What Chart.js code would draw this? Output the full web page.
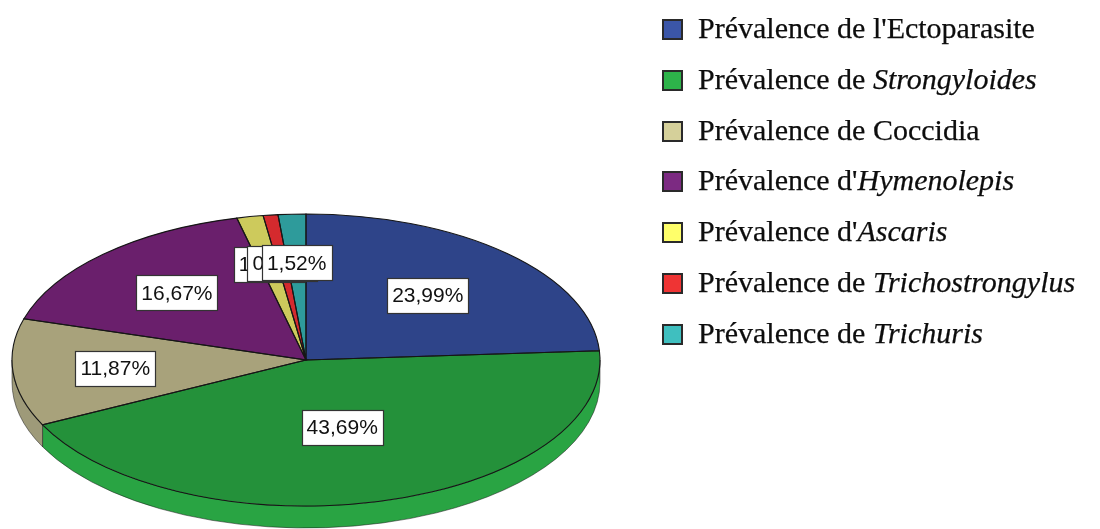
<!DOCTYPE html>
<html>
<head>
<meta charset="utf-8">
<script src="https://cdn.jsdelivr.net/npm/chart.js@4.4.1/dist/chart.umd.min.js"></script>
<style>
  html, body { margin: 0; padding: 0; background: #fff; }
  #wrap { position: relative; width: 1100px; height: 529px; overflow: hidden; }
  #chart { position: absolute; left: 0; top: 0; }
  #legend { position: absolute; left: 0; top: 0; font-family: "Liberation Serif", serif; font-size: 30px; color: #0d0d0d; -webkit-text-stroke: 0.25px #0d0d0d; }
  .row { position: absolute; left: 660px; height: 50px; line-height: 50px; white-space: nowrap; }
  .sw { position: absolute; left: 2px; top: 15px; width: 17px; height: 17px; border: 2px solid #2a2a2a; box-sizing: content-box; }
  .tx { position: absolute; left: 38px; top: -1px; }
</style>
</head>
<body>
<div id="wrap">
  <canvas id="chart" width="1100" height="529"></canvas>
  <div id="legend"></div>
</div>
<script>
// data
const categories = [
  "Prévalence de l'Ectoparasite",
  'Prévalence de Strongyloides',
  'Prévalence de Coccidia',
  "Prévalence d'Hymenolepis",
  "Prévalence d'Ascaris",
  'Prévalence de Trichostrongylus',
  'Prévalence de Trichuris'
];
const italicNames = ['', 'Strongyloides', '', 'Hymenolepis', 'Ascaris', 'Trichostrongylus', 'Trichuris'];
const prevalence = [23.99, 43.69, 11.87, 16.67, 1.45, 0.81, 1.52];

// styles
const topColors = ['#2e4489', '#24913a', '#a8a27b', '#6a1f6c', '#cdca5c', '#d42a2e', '#2e9b9b'];
const rimColors = ['#2a3e7c', '#29a443', '#9e9a79', '#611b63', '#bdb955', '#c02529', '#2a8d8d'];
const legendColors = ['#3b56a8', '#2db34a', '#d5d09a', '#7c2a82', '#ffff6a', '#ef3434', '#3fbfbf'];

// ellipse on the page
const EX = 306, EY = 360, RX = 294, RY = 146, DEPTH = 22;

function fmt(v) { return v.toFixed(2).replace('.', ',') + '%'; }

// legend (html so the species names can be italic)
const legend = document.getElementById('legend');
categories.forEach(function (name, i) {
  const row = document.createElement('div');
  row.className = 'row';
  row.style.top = (4 + i * 50.8) + 'px';
  const sw = document.createElement('span');
  sw.className = 'sw';
  sw.style.background = legendColors[i];
  const tx = document.createElement('span');
  tx.className = 'tx';
  const it = italicNames[i];
  if (it) {
    tx.appendChild(document.createTextNode(name.slice(0, name.length - it.length)));
    const em = document.createElement('i');
    em.textContent = it;
    tx.appendChild(em);
  } else {
    tx.textContent = name;
  }
  row.appendChild(sw);
  row.appendChild(tx);
  legend.appendChild(row);
});

// squash the pie into a tilted ellipse with a front rim
const tiltPie = {
  id: 'tiltPie',
  beforeDatasetsDraw(chart) {
    const ctx = chart.ctx;
    const arcs = chart.getDatasetMeta(0).data;
    ctx.save();
    // rim (front half only: canvas angles 0..PI)
    arcs.forEach(function (a, i) {
      const s = Math.max(a.startAngle, 0);
      const e = Math.min(a.endAngle, Math.PI);
      if (e <= s) return;
      ctx.beginPath();
      ctx.ellipse(EX, EY, RX, RY, 0, s, e);
      ctx.lineTo(EX + RX * Math.cos(e), EY + DEPTH + RY * Math.sin(e));
      ctx.ellipse(EX, EY + DEPTH, RX, RY, 0, e, s, true);
      ctx.closePath();
      ctx.fillStyle = rimColors[i];
      ctx.fill();
      ctx.lineWidth = 1;
      ctx.strokeStyle = 'rgba(20,20,20,0.5)';
      ctx.stroke();
    });
    const a0 = arcs[0];
    const r = a0.outerRadius;
    ctx.translate(EX, EY);
    ctx.scale(RX / r, RY / r);
    ctx.translate(-a0.x, -a0.y);
  },
  afterDatasetsDraw(chart) {
    const ctx = chart.ctx;
    ctx.restore();
    const arcs = chart.getDatasetMeta(0).data;
    // slice outlines
    ctx.save();
    ctx.lineWidth = 1.1;
    ctx.strokeStyle = '#161616';
    arcs.forEach(function (a) {
      ctx.beginPath();
      ctx.moveTo(EX, EY);
      ctx.lineTo(EX + RX * Math.cos(a.startAngle), EY + RY * Math.sin(a.startAngle));
      ctx.ellipse(EX, EY, RX, RY, 0, a.startAngle, a.endAngle);
      ctx.closePath();
      ctx.stroke();
    });
    // value labels at the sector centroid
    ctx.font = '21px "Liberation Sans", Arial, sans-serif';
    ctx.textAlign = 'center';
    ctx.textBaseline = 'middle';
    arcs.forEach(function (a, i) {
      const m = (a.startAngle + a.endAngle) / 2;
      const half = (a.endAngle - a.startAngle) / 2;
      const f = half > 0 ? (2 / 3) * Math.sin(half) / half : 2 / 3;
      const x = EX + f * RX * Math.cos(m);
      const y = EY + f * RY * Math.sin(m);
      const txt = fmt(prevalence[i]);
      const w = Math.round(ctx.measureText(txt).width + 10);
      const h = 35;
      const bx = Math.round(x - w / 2), by = Math.round(y - h / 2);
      ctx.fillStyle = '#ffffff';
      ctx.fillRect(bx, by, w, h);
      ctx.strokeStyle = '#333333';
      ctx.lineWidth = 1.2;
      ctx.strokeRect(bx + 0.5, by + 0.5, w, h);
      ctx.fillStyle = '#111';
      ctx.fillText(txt, x, y + 1);
    });
    ctx.restore();
  }
};

new Chart(document.getElementById('chart').getContext('2d'), {
  type: 'pie',
  data: {
    labels: categories,
    datasets: [{
      data: prevalence,
      backgroundColor: topColors,
      borderWidth: 0,
      clip: false
    }]
  },
  options: {
    responsive: false,
    animation: false,
    layout: { padding: { left: 12, right: 500, top: 0, bottom: 0 } },
    plugins: {
      legend: { display: false },
      tooltip: { enabled: false }
    }
  },
  plugins: [tiltPie]
});
</script>
</body>
</html>
